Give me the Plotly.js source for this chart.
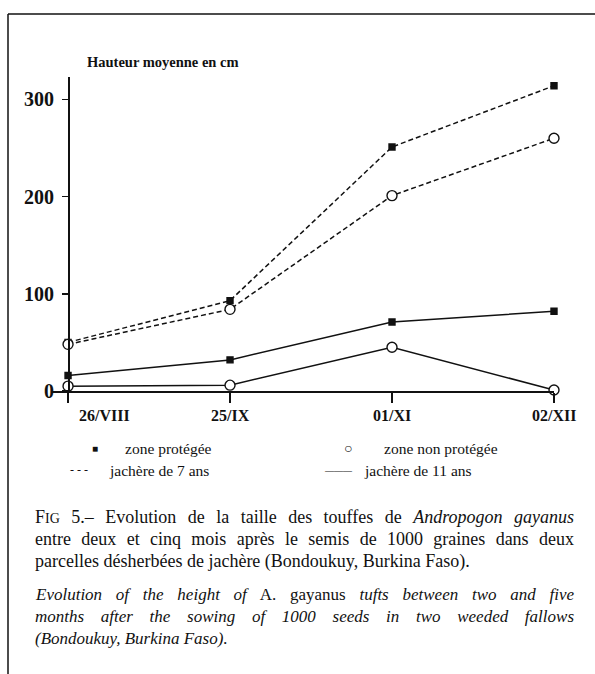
<!DOCTYPE html>
<html>
<head>
<meta charset="utf-8">
<script src="https://cdn.plot.ly/plotly-3.0.1.min.js"></script>
<style>html,body{margin:0;padding:0;background:#fff;}#chart{width:595px;height:674px;}</style>
</head>
<body>
<div id="chart"></div>
<script>
// ---- data ----
const dates = ['26/VIII', '25/IX', '01/XI', '02/XII'];
const dateIndex = [0, 1, 2, 3];
const protected7 = [50, 93, 251, 314];     // zone protégée, jachère de 7 ans
const unprotected7 = [48, 84, 201, 260];   // zone non protégée, jachère de 7 ans
const protected11 = [16, 32, 71, 82];      // zone protégée, jachère de 11 ans
const unprotected11 = [5, 6, 45, 1];       // zone non protégée, jachère de 11 ans
const yTicks = [0, 100, 200, 300];
const yTitle = 'Hauteur moyenne en cm';
const legendLabels = ['zone protégée', 'zone non protégée', 'jachère de 7 ans', 'jachère de 11 ans'];
// caption lines as [text, style] segments: n = normal, i = italic, en/e = English upright/italic, sc = small caps
const captionFr = [
  [['F', 'n'], ['IG', 'sc'], [' 5.– Evolution de la taille des touffes de ', 'n'], ['Andropogon gayanus', 'i']],
  [['entre deux et cinq mois après le semis de 1000 graines dans deux', 'n']],
  [['parcelles désherbées de jachère (Bondoukuy, Burkina Faso).', 'n']]
];
const captionEn = [
  [['Evolution of the height of', 'e'], [' A. gayanus ', 'en'], ['tufts between two and five', 'e']],
  [['months after the sowing of 1000 seeds in two weeded fallows', 'e']],
  [['(Bondoukuy, Burkina Faso).', 'e']]
];
const justified = [true, true, false];

// ---- layout helpers (pixel -> paper) ----
const W = 595, H = 674;
const M = {l: 52, r: 41, t: 77, b: 283};
const PW = W - M.l - M.r, PH = H - M.t - M.b;
const px = x => (x - M.l) / PW;
const py = y => (H - M.b - y) / PH;
const serif = 'Liberation Serif, Times New Roman, serif';
const segStyles = {
  n: {family: 'Liberation Serif', size: 18, italic: false},
  i: {family: 'Liberation Serif', size: 18, italic: true},
  sc: {family: 'Liberation Serif', size: 14, italic: false},
  en: {family: 'Liberation Serif', size: 17, italic: false},
  e: {family: 'Liberation Serif', size: 17, italic: true}
};
const capLeft = 33, capRight = 572;

const canvas = document.createElement('canvas');
const ctx = canvas.getContext('2d');
function lineHtml(segs, justify) {
  let width = 0, spaces = 0;
  segs.forEach(([t, s]) => {
    const st = segStyles[s];
    ctx.font = (st.italic ? 'italic ' : '') + st.size + 'px "' + st.family + '"';
    width += ctx.measureText(t).width;
    spaces += (t.match(/ /g) || []).length;
  });
  const ws = justify && spaces ? Math.max(0, (capRight - capLeft - width) / spaces) : 0;
  return segs.map(([t, s]) => {
    const st = segStyles[s];
    const css = 'word-spacing:' + ws.toFixed(2) + 'px;font-family:' + st.family + ';font-size:' + st.size +
      'px;font-style:' + (st.italic ? 'italic' : 'normal');
    return '<span style="' + css + '">' + t + '</span>';
  }).join('');
}

const dash7 = '5px,3px';
function series(y, symbol, dash, size) {
  return {
    x: dateIndex, y: y, type: 'scatter', mode: 'lines+markers', cliponaxis: false,
    line: {color: '#111', width: 1.5, dash: dash},
    marker: {symbol: symbol, size: size, color: symbol === 'circle' ? '#fff' : '#111',
             line: {color: '#111', width: 1.4}},
    showlegend: false, hoverinfo: 'skip'
  };
}
const traces = [
  series(protected7, 'square', dash7, 6),
  series(unprotected7, 'circle', dash7, 10),
  series(protected11, 'square', 'solid', 6),
  series(unprotected11, 'circle', 'solid', 10)
];

const annotations = [];
// y title
annotations.push({xref: 'paper', yref: 'paper', x: px(85), y: py(62), xanchor: 'left', yanchor: 'middle',
  text: '<b>' + yTitle + '</b>', showarrow: false, font: {family: serif, size: 14.5, color: '#111'}});
// x tick labels
dates.forEach((d, i) => {
  annotations.push({xref: 'x', yref: 'paper', x: dateIndex[i], y: 0, xanchor: 'center', yanchor: 'top',
    xshift: i === 0 ? 36 : 0, yshift: -14, text: '<b>' + d + '</b>', showarrow: false,
    font: {family: serif, size: 16, color: '#111'}});
});
// legend
const legendItems = [
  {key: '■', kx: 95, tx: 123, y: 448, ksize: 10, text: legendLabels[0]},
  {key: '○', kx: 348, tx: 382, y: 448, ksize: 14, text: legendLabels[1]},
  {key: '- - -', kx: 79, tx: 107, y: 470, ksize: 12, text: legendLabels[2]},
  {key: '———', kx: 338, tx: 362, y: 470, ksize: 9, text: legendLabels[3]}
];
legendItems.forEach(it => {
  annotations.push({xref: 'paper', yref: 'paper', x: px(it.kx), y: py(it.y), xanchor: 'center', yanchor: 'middle',
    text: it.key, showarrow: false, font: {family: serif, size: it.ksize, color: '#111'}});
  annotations.push({xref: 'paper', yref: 'paper', x: px(it.tx), y: py(it.y), xanchor: 'left', yanchor: 'middle',
    text: it.text, showarrow: false, font: {family: serif, size: 15.5, color: '#111'}});
});
// captions
captionFr.forEach((segs, i) => {
  annotations.push({xref: 'paper', yref: 'paper', x: px(capLeft), y: py(517 + 22 * i), xanchor: 'left', yanchor: 'middle',
    text: lineHtml(segs, justified[i]), showarrow: false, font: {family: serif, size: 18, color: '#111'}});
});
captionEn.forEach((segs, i) => {
  annotations.push({xref: 'paper', yref: 'paper', x: px(capLeft), y: py(594 + 22 * i), xanchor: 'left', yanchor: 'middle',
    text: lineHtml(segs, justified[i]), showarrow: false, font: {family: serif, size: 17, color: '#111'}});
});

const shapes = [
  {type: 'line', xref: 'paper', yref: 'paper', x0: px(8), x1: px(595), y0: py(14), y1: py(14), line: {color: '#111', width: 1.5}},
  {type: 'line', xref: 'paper', yref: 'paper', x0: px(8), x1: px(8), y0: py(14), y1: py(674), line: {color: '#111', width: 1.5}}
];

const layout = {
  width: W, height: H, margin: M, paper_bgcolor: '#fff', plot_bgcolor: '#fff',
  showlegend: false,
  xaxis: {range: [-0.099, 3], showline: true, linecolor: '#111', linewidth: 1.5, ticks: 'outside',
          ticklen: 10, tickwidth: 1.5, tickcolor: '#111', tickvals: dateIndex, showticklabels: false,
          showgrid: false, zeroline: false, fixedrange: true},
  yaxis: {range: [0, 323], anchor: 'free', position: px(68), showline: true, linecolor: '#111', linewidth: 1.5,
          ticks: 'outside', ticklen: 6, tickwidth: 1.5, tickcolor: '#111', tickvals: yTicks,
          ticklabelstandoff: 4,
          tickfont: {family: serif, size: 20, color: '#111', weight: 'bold'},
          showgrid: false, zeroline: false, fixedrange: true},
  annotations: annotations, shapes: shapes
};
Plotly.newPlot('chart', traces, layout, {displayModeBar: false, staticPlot: true});
</script>
</body>
</html>
